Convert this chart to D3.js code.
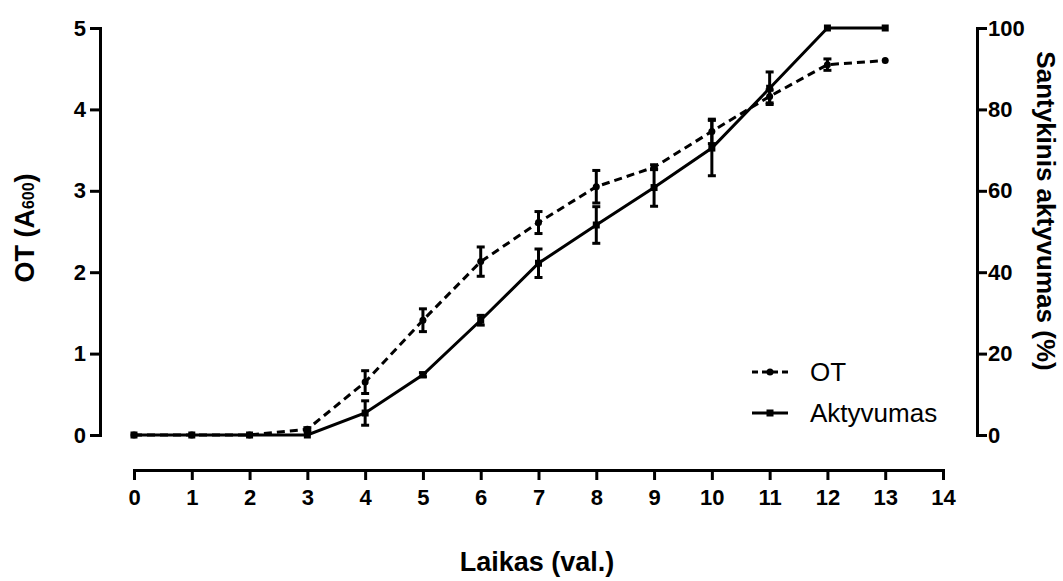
<!DOCTYPE html>
<html>
<head>
<meta charset="utf-8">
<script src="https://cdn.jsdelivr.net/npm/d3@7/dist/d3.min.js"></script>
<style>
  html, body { margin: 0; padding: 0; background: #fff; }
  svg { display: block; }
  text { font-family: "Liberation Sans", Arial, sans-serif; fill: #000; }
</style>
</head>
<body>
<svg id="chart" width="1063" height="581"></svg>
<script>
// ---- data ----
const hours = [0, 1, 2, 3, 4, 5, 6, 7, 8, 9, 10, 11, 12, 13];
const otValues = [0, 0, 0, 0.07, 0.65, 1.41, 2.13, 2.61, 3.05, 3.29, 3.73, 4.16, 4.55, 4.60];
const otErrors = [0, 0, 0, 0.02, 0.14, 0.14, 0.18, 0.135, 0.2, 0.03, 0.15, 0.08, 0.07, 0];
const actValues = [0, 0, 0, 0, 5.4, 14.8, 28.2, 42.2, 51.6, 60.8, 70.5, 85.2, 100, 100];
const actErrors = [0, 0, 0, 0, 3, 0.5, 1.2, 3.5, 4.5, 4.6, 6.8, 4, 0, 0];
const xTicks = [0, 1, 2, 3, 4, 5, 6, 7, 8, 9, 10, 11, 12, 13, 14];
const leftTicks = [0, 1, 2, 3, 4, 5];
const rightTicks = [0, 20, 40, 60, 80, 100];
const seriesNames = ["OT", "Aktyvumas"];
const xTitle = "Laikas (val.)";
const rightTitle = "Santykinis aktyvumas (%)";

// ---- layout ----
const svg = d3.select("#chart");
const x = d3.scaleLinear().domain([0, 14]).range([134, 943]);
const yL = d3.scaleLinear().domain([0, 5]).range([435, 28]);
const yR = d3.scaleLinear().domain([0, 100]).range([435, 28]);
const axisW = 3;

function styleAxis(g, fs) {
  g.selectAll("path.domain").attr("stroke", "#000").attr("stroke-width", axisW);
  g.selectAll(".tick line").attr("stroke", "#000").attr("stroke-width", axisW);
  g.selectAll(".tick text").attr("font-size", fs).attr("font-weight", "bold")
    .attr("font-family", "'Liberation Sans', Arial, sans-serif").attr("fill", "#000");
}

// x axis
const gx = svg.append("g").attr("transform", "translate(0,470)")
  .call(d3.axisBottom(x).tickValues(xTicks).tickSize(10).tickSizeOuter(10).tickPadding(9).tickFormat(d3.format("d")));
styleAxis(gx, 22);

// left axis
const gl = svg.append("g").attr("transform", "translate(100,0)")
  .call(d3.axisLeft(yL).tickValues(leftTicks).tickSize(10).tickSizeOuter(10).tickPadding(4).tickFormat(d3.format("d")));
styleAxis(gl, 22);

// right axis
const gr = svg.append("g").attr("transform", "translate(977,0)")
  .call(d3.axisRight(yR).tickValues(rightTicks).tickSize(10).tickSizeOuter(10).tickPadding(1).tickFormat(d3.format("d")));
styleAxis(gr, 22);

// axis titles
svg.append("text").attr("x", 537).attr("y", 571).attr("text-anchor", "middle")
  .attr("font-size", 27).attr("font-weight", "bold").text(xTitle);

const lt = svg.append("text").attr("transform", "translate(34,228) rotate(-90)")
  .attr("text-anchor", "middle").attr("font-size", 27).attr("font-weight", "bold");
lt.append("tspan").text("OT (A");
lt.append("tspan").attr("font-size", 16).text("600");
lt.append("tspan").text(")");

svg.append("text").attr("transform", "translate(1037,211) rotate(90)")
  .attr("text-anchor", "middle").attr("font-size", 26).attr("font-weight", "bold").text(rightTitle);

// ---- series ----
const otData = hours.map((h, i) => ({ h, v: otValues[i], e: otErrors[i] }));
const actData = hours.map((h, i) => ({ h, v: actValues[i], e: actErrors[i] }));

function drawErrors(data, yScale) {
  const g = svg.append("g").attr("stroke", "#000").attr("stroke-width", 3);
  data.filter(d => d.e > 0.0001).forEach(d => {
    const top = yScale(d.v + d.e), bot = yScale(d.v - d.e), cx = x(d.h);
    g.append("line").attr("x1", cx).attr("x2", cx).attr("y1", top).attr("y2", bot);
    g.append("line").attr("x1", cx - 4).attr("x2", cx + 4).attr("y1", top).attr("y2", top);
    g.append("line").attr("x1", cx - 4).attr("x2", cx + 4).attr("y1", bot).attr("y2", bot);
  });
}

// OT line (dashed)
svg.append("path").datum(otData)
  .attr("fill", "none").attr("stroke", "#000").attr("stroke-width", 3)
  .attr("stroke-dasharray", "8,5")
  .attr("d", d3.line().x(d => x(d.h)).y(d => yL(d.v)));
// Aktyvumas line (solid)
svg.append("path").datum(actData)
  .attr("fill", "none").attr("stroke", "#000").attr("stroke-width", 3)
  .attr("d", d3.line().x(d => x(d.h)).y(d => yR(d.v)));

drawErrors(otData, yL);
drawErrors(actData, yR);

svg.append("g").selectAll("circle").data(otData).join("circle")
  .attr("cx", d => x(d.h)).attr("cy", d => yL(d.v)).attr("r", 3.5).attr("fill", "#000");
svg.append("g").selectAll("rect").data(actData).join("rect")
  .attr("x", d => x(d.h) - 3.5).attr("y", d => yR(d.v) - 3.5)
  .attr("width", 7).attr("height", 7).attr("fill", "#000");

// ---- legend ----
const leg = svg.append("g");
[372, 413].forEach((ly, i) => {
  leg.append("line").attr("x1", 752).attr("x2", 788).attr("y1", ly).attr("y2", ly)
    .attr("stroke", "#000").attr("stroke-width", 3)
    .attr("stroke-dasharray", i === 0 ? "6,4" : null);
  if (i === 0) {
    leg.append("circle").attr("cx", 770).attr("cy", ly).attr("r", 3.5).attr("fill", "#000");
  } else {
    leg.append("rect").attr("x", 766.5).attr("y", ly - 3.5).attr("width", 7).attr("height", 7).attr("fill", "#000");
  }
  leg.append("text").attr("x", 810).attr("y", ly + 9).attr("font-size", 26).text(seriesNames[i]);
});
</script>
</body>
</html>
